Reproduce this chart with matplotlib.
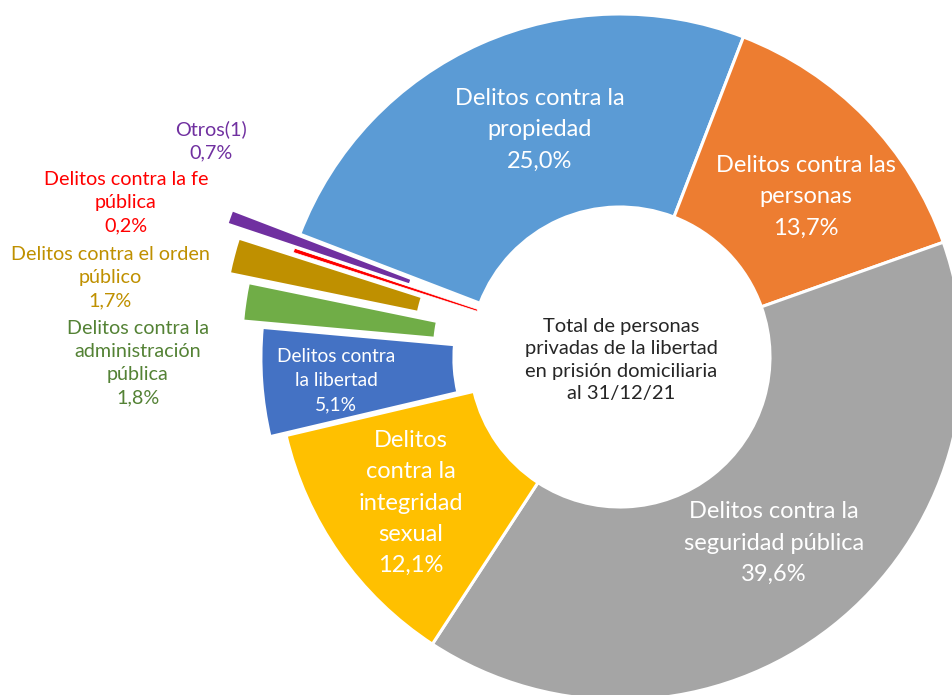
import matplotlib.pyplot as plt

plt.rcParams['font.family'] = ['Lato', 'DejaVu Sans']

# datos
categorias = ['Delitos contra la\npropiedad', 'Delitos contra las\npersonas',
              'Delitos contra la\nseguridad pública',
              'Delitos\ncontra la\nintegridad\nsexual', 'Delitos contra\nla libertad',
              'Delitos contra la\nadministración\npública',
              'Delitos contra el orden\npúblico', 'Delitos contra la fe\npública',
              'Otros(1)']
porcentajes = [25.0, 13.7, 39.6, 12.1, 5.1, 1.8, 1.7, 0.2, 0.7]
titulo_centro = 'Total de personas\nprivadas de la libertad\nen prisión domiciliaria\nal 31/12/21'

# estilo
colores = ['#5B9BD5', '#ED7D31', '#A5A5A5', '#FFC000', '#4472C4',
           '#70AD47', '#BF9000', '#FF0000', '#7030A0']
color_texto = ['white', 'white', 'white', 'white', 'white',
               '#548235', '#BF9000', '#FF0000', '#7030A0']
separacion = [0, 0, 0, 0, 0.047, 0.105, 0.165, 0, 0.21]
# centro de cada etiqueta en pixeles de la imagen
pos_etiquetas = [(540, 130), (806, 197), (774, 543), (411, 503), (336, 381),
                 (138, 363), (110, 278), (126, 203), (211, 141)]
tam_etiquetas = [17, 17, 17, 17, 13.8, 14.2, 14.2, 14.2, 14.2]
espaciado = [1.6, 1.6, 1.6, 1.6, 1.5, 1.45, 1.45, 1.45, 1.45]

W, H = 953, 695
CX, CY, R = 620, 357, 343


def px(x, y):
    return (x - CX) / R, (CY - y) / R


fig = plt.figure(figsize=(W / 100, H / 100), dpi=100)
ax = fig.add_axes([0, 0, 1, 1])

wedges, _ = ax.pie(porcentajes, colors=colores, startangle=159, counterclock=False,
                   explode=separacion, radius=1,
                   wedgeprops=dict(width=(R - 150) / R, edgecolor='white',
                                   linewidth=2.2))
wedges[7].set_linewidth(0.5)

for cat, val, pos, col, tam, esp in zip(categorias, porcentajes, pos_etiquetas,
                                        color_texto, tam_etiquetas, espaciado):
    txt = cat + '\n' + f'{val:.1f}'.replace('.', ',') + '%'
    x, y = px(*pos)
    ax.text(x, y, txt, ha='center', va='center', color=col, fontsize=tam,
            linespacing=esp)

x, y = px(621, 360)
ax.text(x, y, titulo_centro, ha='center', va='center', color='#262626',
        fontsize=14.5, linespacing=1.4)

ax.set_xlim(-CX / R, (W - CX) / R)
ax.set_ylim((CY - H) / R, CY / R)
ax.set_aspect('equal')
ax.axis('off')

fig.savefig('out.png', dpi=100, facecolor='white')
